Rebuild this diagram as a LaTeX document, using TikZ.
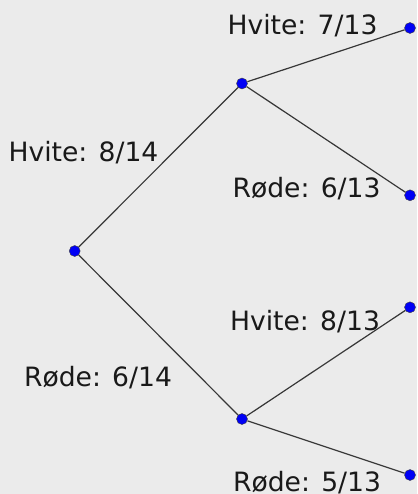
\documentclass[tikz,border=0pt]{standalone}
\usepackage{fontspec}
\setmainfont{DejaVu Sans}
\usetikzlibrary{positioning}
\definecolor{bggray}{RGB}{235,235,235}
\definecolor{dotblue}{RGB}{0,0,245}
\definecolor{linegray}{RGB}{55,55,55}
\definecolor{textgray}{RGB}{25,25,25}
\tikzset{
  treedot/.style={circle, draw=black!75, fill=dotblue, line width=0.4pt,
                  minimum size=11pt, inner sep=0pt},
  branch/.style={draw=linegray, line width=1.2pt},
  prob/.style={anchor=base, inner sep=0pt, text=textgray,
               font=\fontsize{26.6}{32}\selectfont}
}

\begin{document}
\begin{tikzpicture}[x=1pt,y=-1pt]
  \fill[bggray] (0,0) rectangle (417,494);
  \useasboundingbox (0,0) rectangle (417,494);

  % the tree
  \node[treedot] (root) at (74.7,251) {};
  \node[treedot] (hvit) at (242,83.5) {};
  \node[treedot] (rod)  at (242,419) {};
  \node[treedot] (hh)   at (410,28) {};
  \node[treedot] (hr)   at (410,195.3) {};
  \node[treedot] (rh)   at (410,307.3) {};
  \node[treedot] (rr)   at (410,475) {};

  \draw[branch] (root) -- (hvit);
  \draw[branch] (root) -- (rod);
  \draw[branch] (hvit) -- (hh);
  \draw[branch] (hvit) -- (hr);
  \draw[branch] (rod) -- (rh);
  \draw[branch] (rod) -- (rr);

  % probabilities
  \node[prob] (p1)  at (83.5,162) {Hvite: 8/14};
  \node[prob] (p2)  at (98,386)   {Røde: 6/14};
  \node[prob] (p11) at (302.5,35) {Hvite: 7/13};
  \node[prob] (p12) at (306.5,197) {Røde: 6/13};
  \node[prob] (p21) at (305,330)  {Hvite: 8/13};
  \node[prob] (p22) at (307,491)  {Røde: 5/13};
\end{tikzpicture}
\end{document}
